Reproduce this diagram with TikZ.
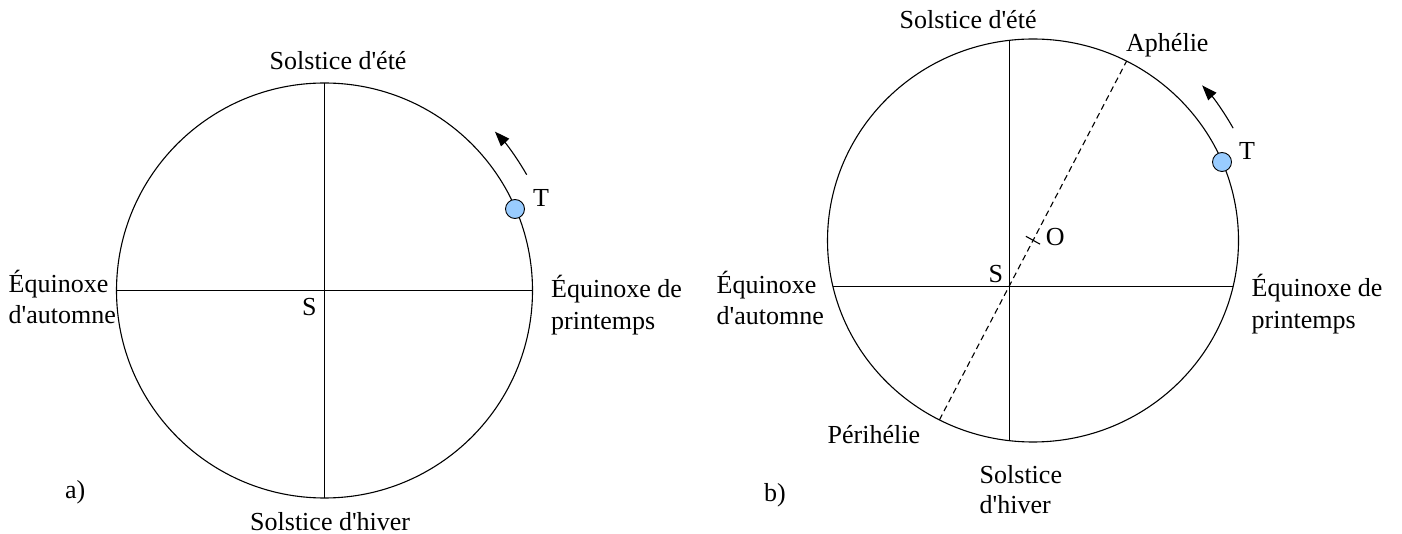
\documentclass[tikz,border=0pt]{standalone}
\usepackage{fontspec}
\setmainfont{Liberation Serif}[Ligatures=TeXOff]
\usetikzlibrary{arrows.meta,calc}
\definecolor{earthblue}{RGB}{153,204,255}
\begin{document}
\begin{tikzpicture}[x=1pt,y=-1pt,
  orbit/.style={draw=black,line width=1.1pt},
  axisline/.style={draw=black,line width=1.1pt},
  apsis/.style={draw=black,line width=1.1pt,dash pattern=on 6pt off 4pt},
  planet/.style={circle,draw=black,line width=0.9pt,fill=earthblue,minimum size=19pt,inner sep=0pt},
  motion/.style={draw=black,line width=1.1pt,-{Triangle[length=15pt,width=11pt]}},
  lbl/.style={inner sep=0pt,anchor=base west,font=\fontsize{26}{32}\selectfont},
  mlbl/.style={lbl,align=left}]
\useasboundingbox (0,0) rectangle (1402,534);
\fill[white] (0,0) rectangle (1402,534);
% ---------- a) ----------
\coordinate (Sa) at (324.5,290.5);
\draw[orbit] (Sa) ellipse [x radius=208, y radius=207.5];
\coordinate (aW) at (116.5,290.5);
\coordinate (aE) at (532.5,290.5);
\coordinate (aN) at (324.5,83);
\coordinate (aS) at (324.5,498);
\draw[axisline] (aW) -- (aE);
\draw[axisline] (aN) -- (aS);
\node[planet] (Ta) at (515,209) {};
\coordinate (arrA) at ($(Sa)+(-29.8:233)$);
\draw[motion] (arrA) arc [start angle=-29.8, end angle=-43, radius=233];
\node[lbl] (ta) at (533,206.7) {T};
\node[lbl] (sa) at (302,316) {S};
\node[lbl] (seteA) at (269.5,69.3) {Solstice d'été};
\node[lbl] (shivA) at (250,530) {Solstice d'hiver};
\node[mlbl] (eautA) at (8.5,324) {Équinoxe\\d'automne};
\node[mlbl] (eprA) at (551,329.5) {Équinoxe de\\printemps};
\node[lbl] (la) at (65,498.3) {a)};
% ---------- b) ----------
\coordinate (Ob) at (1033,240.5);
\coordinate (Sb) at (1009.5,286.5);
\draw[orbit] (Ob) ellipse [x radius=205.5, y radius=201.5];
\coordinate (bW) at (832.8,286.5);
\coordinate (bE) at (1233.2,286.5);
\coordinate (bN) at (1009.5,40.3);
\coordinate (bS) at (1009.5,440.7);
\draw[axisline] (bW) -- (bE);
\draw[axisline] (bN) -- (bS);
\coordinate (aph) at (1126.6,61.1);
\coordinate (peri) at (939.4,419.9);
\draw[apsis] (peri) -- (aph);
\coordinate (tk1) at (1025.9,236.3);
\coordinate (tk2) at (1040.1,244.2);
\draw[axisline] (tk1) -- (tk2);
\node[planet] (Tb) at (1222,162) {};
\coordinate (arrB) at ($(Ob)+(-29.3:229.5)$);
\draw[motion] (arrB) arc [start angle=-29.3, end angle=-42.5, radius=229.5];
\node[lbl] (tb) at (1239,160) {T};
\node[lbl] (ob) at (1045.7,245.7) {O};
\node[lbl] (sb) at (988.5,282.7) {S};
\node[lbl] (seteB) at (899.5,28.3) {Solstice d'été};
\node[lbl] (aphl) at (1126,51.7) {Aphélie};
\node[lbl] (peril) at (827.5,443.3) {Périhélie};
\node[mlbl,font=\fontsize{26}{29.5}\selectfont] (shivB) at (979.5,513) {Solstice\\d'hiver};
\node[mlbl] (eautB) at (716.5,325) {Équinoxe\\d'automne};
\node[mlbl] (eprB) at (1251.5,328.3) {Équinoxe de\\printemps};
\node[lbl] (lb) at (764,501.7) {b)};
\end{tikzpicture}
\end{document}
